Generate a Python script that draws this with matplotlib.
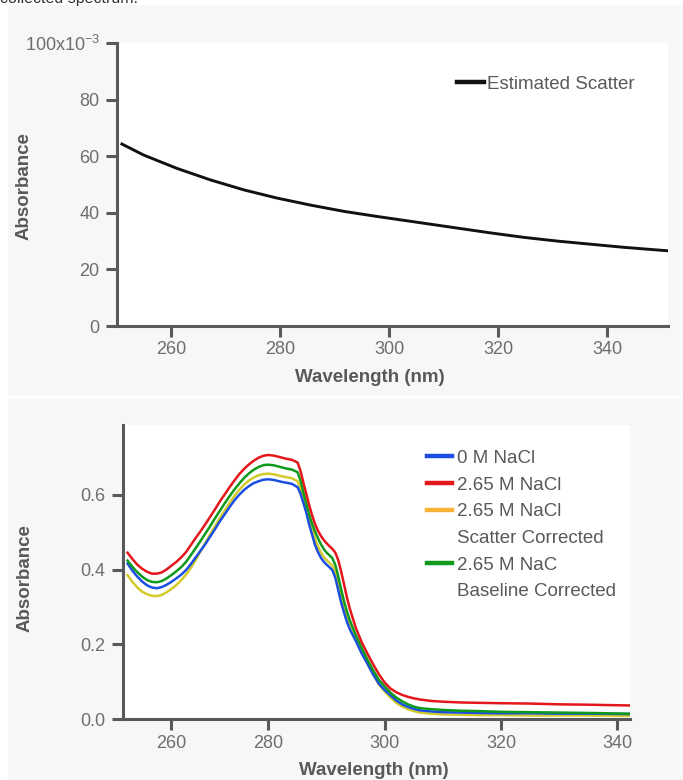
import numpy as np
import matplotlib
matplotlib.use("Agg")
import matplotlib.pyplot as plt
from matplotlib.patches import Rectangle
from matplotlib.lines import Line2D
from matplotlib.ticker import FixedLocator, FuncFormatter

plt.rcParams['font.family'] = ['Liberation Sans', 'DejaVu Sans']
plt.rcParams['mathtext.default'] = 'regular'

# ---------------- data ----------------
# Top panel: estimated scatter
wl_top = [250.9, 254.9, 261.0, 267.2, 273.3, 279.4, 285.6, 291.7, 297.8, 302.1,
          306.4, 312.5, 318.6, 324.8, 330.9, 337.0, 343.1, 351.0]
scatter = [0.0643, 0.0604, 0.0557, 0.0516, 0.0481, 0.0452, 0.0427, 0.0405, 0.0387, 0.0375,
           0.0363, 0.0346, 0.0329, 0.0313, 0.0300, 0.0289, 0.0278, 0.0266]
top_xticks = [260, 280, 300, 320, 340]
top_yticks = [0, 0.02, 0.04, 0.06, 0.08, 0.10]
top_ylabels = ['0', '20', '40', '60', '80', '100x10$^{-3}$']

# Bottom panel: spectra
wl = [251, 252, 253, 254, 255, 256, 257, 258, 259, 260,
      261, 262, 263, 264, 265, 266, 267, 268, 269, 270,
      271, 272, 273, 274, 275, 276, 277, 278, 279, 280,
      281, 282, 283, 284, 285, 285.5, 286, 286.5, 287, 287.5,
      288, 288.5, 289, 289.5, 290, 290.5, 291, 291.5, 292, 292.5,
      293, 293.5, 294, 295, 296, 297, 298, 299, 300, 301,
      302, 303, 304, 305, 306, 308, 310, 313, 316, 320,
      325, 330, 335, 342]
nacl_0 = [0.416, 0.397, 0.381, 0.368, 0.358, 0.352, 0.350, 0.353, 0.359, 0.367,
          0.376, 0.386, 0.398, 0.414, 0.432, 0.450, 0.468, 0.488, 0.508, 0.529,
          0.548, 0.567, 0.585, 0.600, 0.613, 0.623, 0.631, 0.636, 0.640, 0.641,
          0.639, 0.635, 0.632, 0.629, 0.620, 0.603, 0.578, 0.552, 0.520, 0.493,
          0.466, 0.447, 0.432, 0.421, 0.413, 0.406, 0.398, 0.378, 0.345, 0.312,
          0.285, 0.260, 0.240, 0.210, 0.177, 0.149, 0.120, 0.095, 0.078, 0.064,
          0.050, 0.040, 0.033, 0.028, 0.024, 0.021, 0.019, 0.018, 0.017, 0.016,
          0.016, 0.015, 0.015, 0.014]
nacl_265 = [0.445, 0.428, 0.413, 0.402, 0.394, 0.389, 0.389, 0.392, 0.400, 0.410,
            0.420, 0.432, 0.446, 0.465, 0.484, 0.502, 0.521, 0.541, 0.561, 0.582,
            0.601, 0.620, 0.638, 0.655, 0.669, 0.681, 0.691, 0.699, 0.704, 0.706,
            0.704, 0.700, 0.696, 0.693, 0.686, 0.664, 0.632, 0.602, 0.572, 0.545,
            0.522, 0.504, 0.490, 0.479, 0.470, 0.462, 0.455, 0.445, 0.425, 0.395,
            0.360, 0.325, 0.295, 0.245, 0.207, 0.176, 0.147, 0.120, 0.098, 0.082,
            0.072, 0.065, 0.060, 0.056, 0.053, 0.049, 0.047, 0.045, 0.044, 0.043,
            0.042, 0.040, 0.039, 0.037]
nacl_scatter = [0.385, 0.367, 0.352, 0.341, 0.334, 0.330, 0.329, 0.332, 0.339, 0.348,
                0.358, 0.371, 0.386, 0.404, 0.425, 0.448, 0.471, 0.494, 0.516, 0.538,
                0.558, 0.578, 0.597, 0.613, 0.627, 0.638, 0.646, 0.652, 0.655, 0.656,
                0.654, 0.650, 0.647, 0.644, 0.636, 0.618, 0.592, 0.565, 0.534, 0.507,
                0.482, 0.462, 0.446, 0.434, 0.425, 0.418, 0.410, 0.390, 0.357, 0.323,
                0.294, 0.268, 0.246, 0.214, 0.180, 0.150, 0.120, 0.093, 0.074, 0.058,
                0.044, 0.034, 0.027, 0.022, 0.018, 0.015, 0.013, 0.012, 0.011, 0.011,
                0.010, 0.010, 0.010, 0.009]
nacl_baseline = [0.424, 0.407, 0.393, 0.381, 0.372, 0.367, 0.366, 0.369, 0.376, 0.385,
                 0.395, 0.406, 0.420, 0.438, 0.457, 0.476, 0.496, 0.516, 0.537, 0.557,
                 0.577, 0.596, 0.614, 0.630, 0.645, 0.657, 0.667, 0.674, 0.679, 0.680,
                 0.678, 0.674, 0.670, 0.667, 0.660, 0.638, 0.606, 0.576, 0.547, 0.522,
                 0.502, 0.484, 0.468, 0.455, 0.445, 0.438, 0.430, 0.412, 0.382, 0.347,
                 0.315, 0.288, 0.264, 0.225, 0.192, 0.160, 0.131, 0.105, 0.088, 0.071,
                 0.058, 0.048, 0.040, 0.034, 0.030, 0.027, 0.025, 0.023, 0.022, 0.020,
                 0.019, 0.018, 0.017, 0.015]
bot_xticks = [260, 280, 300, 320, 340]
bot_yticks = [0.0, 0.2, 0.4, 0.6]
legend_labels = ['0 M NaCl', '2.65 M NaCl', '2.65 M NaCl', 'Scatter Corrected',
                 '2.65 M NaC', 'Baseline Corrected']

# ---------------- style ----------------
AXC = '#58595b'
TICKC = '#6d6e71'
BG = '#f7f7f7'
W, H = 683, 780

fig = plt.figure(figsize=(W / 100, H / 100), dpi=100)
fig.patch.set_facecolor('white')

fig.patches.append(Rectangle((8 / W, 1 - 396 / H), (W - 8) / W, (396 - 5) / H,
                             transform=fig.transFigure, facecolor=BG, edgecolor='none', zorder=-1))
fig.patches.append(Rectangle((8 / W, 0), (W - 8) / W, (H - 398) / H,
                             transform=fig.transFigure, facecolor=BG, edgecolor='none', zorder=-1))

fig.text(0.0, 1 - 3 / H, 'collected spectrum.', fontsize=11.5, color='#333333',
         va='baseline', ha='left')


def style_axes(ax):
    for s in ['top', 'right']:
        ax.spines[s].set_visible(False)
    for s in ['left', 'bottom']:
        ax.spines[s].set_linewidth(2.2)
        ax.spines[s].set_color(AXC)
    ax.tick_params(axis='both', direction='out', length=8, width=2.2, color=AXC,
                   labelsize=13, labelcolor=TICKC)
    ax.tick_params(axis='x', pad=3)
    ax.tick_params(axis='y', pad=4.5)
    ax.set_facecolor('white')


# ---------------- top panel ----------------
ax1 = fig.add_axes([117 / W, 1 - 326 / H, 551 / W, 283 / H])
style_axes(ax1)
ax1.plot(wl_top, scatter, color='#111111', lw=2.1, label='Estimated Scatter')
ax1.set_xlim(250, 351.2)
ax1.set_ylim(0, 0.10)
ax1.set_xticks(top_xticks)
ax1.set_yticks(top_yticks)
ax1.set_yticklabels(top_ylabels)
ax1.set_xlabel('Wavelength (nm)', fontsize=13.5, fontweight='bold', color=AXC)
ax1.set_ylabel('Absorbance', fontsize=13.5, fontweight='bold', color=AXC)
ax1.xaxis.set_label_coords((369.5 - 117) / 551, (326 - 369) / 283)
ax1.yaxis.set_label_coords((33 - 117) / 551, (326 - 186) / 283)
leg1 = ax1.legend(handles=[Line2D([], [], color='#111111', lw=3.2)], labels=['Estimated Scatter'],
                  loc='center left', bbox_to_anchor=((457 - 117) / 551, (326 - 84) / 283),
                  frameon=False, borderpad=0, borderaxespad=0, handlelength=1.44,
                  handletextpad=0.16, fontsize=13.5)
for t in leg1.get_texts():
    t.set_color(AXC)

# ---------------- bottom panel ----------------
K = 4.85 / 5.8


def fwd(x):
    x = np.asarray(x, dtype=float)
    return np.where(x < 280, 280 + (x - 280) * K, x)


def inv(y):
    y = np.asarray(y, dtype=float)
    return np.where(y < 280, 280 + (y - 280) / K, y)


ax2 = fig.add_axes([122.7 / W, 1 - 719.3 / H, 507.3 / W, 294.3 / H])
ax2.set_xscale('function', functions=(fwd, inv))
style_axes(ax2)
c_blue, c_red, c_yel, c_orange, c_green = '#1b4fe3', '#e3171b', '#d2cb2a', '#f7b335', '#109a1c'
ax2.plot(wl, nacl_scatter, color=c_yel, lw=1.8)
ax2.plot(wl, nacl_0, color=c_blue, lw=1.8)
ax2.plot(wl, nacl_baseline, color=c_green, lw=1.8)
ax2.plot(wl, nacl_265, color=c_red, lw=1.8)
ax2.set_xlim(250, 342.2)
ax2.set_ylim(0, 0.786)
ax2.xaxis.set_major_locator(FixedLocator(bot_xticks))
ax2.xaxis.set_minor_locator(FixedLocator([]))
ax2.xaxis.set_major_formatter(FuncFormatter(lambda v, p: f'{v:.0f}'))
ax2.set_yticks(bot_yticks)
ax2.yaxis.set_major_formatter(FuncFormatter(lambda v, p: f'{v:.1f}'))
ax2.set_xlabel('Wavelength (nm)', fontsize=13.5, fontweight='bold', color=AXC)
ax2.set_ylabel('Absorbance', fontsize=13.5, fontweight='bold', color=AXC)
ax2.xaxis.set_label_coords((374 - 122.7) / 507.3, (719.3 - 762) / 294.3)
ax2.yaxis.set_label_coords((34 - 122.7) / 507.3, (719.3 - 578) / 294.3)

handles = [Line2D([], [], color=c_blue, lw=3.2),
           Line2D([], [], color=c_red, lw=3.2),
           Line2D([], [], color=c_orange, lw=3.2),
           Line2D([], [], color='none', lw=0),
           Line2D([], [], color=c_green, lw=3.2),
           Line2D([], [], color='none', lw=0)]
leg2 = ax2.legend(handles=handles, labels=legend_labels, loc='center left',
                  bbox_to_anchor=((427 - 122.7) / 507.3, (719.3 - 525) / 294.3),
                  frameon=False, borderpad=0, borderaxespad=0, handlelength=1.33,
                  handletextpad=0.27, labelspacing=0.51, fontsize=13.5)
for t in leg2.get_texts():
    t.set_color(AXC)

fig.savefig('out.png', dpi=100)
